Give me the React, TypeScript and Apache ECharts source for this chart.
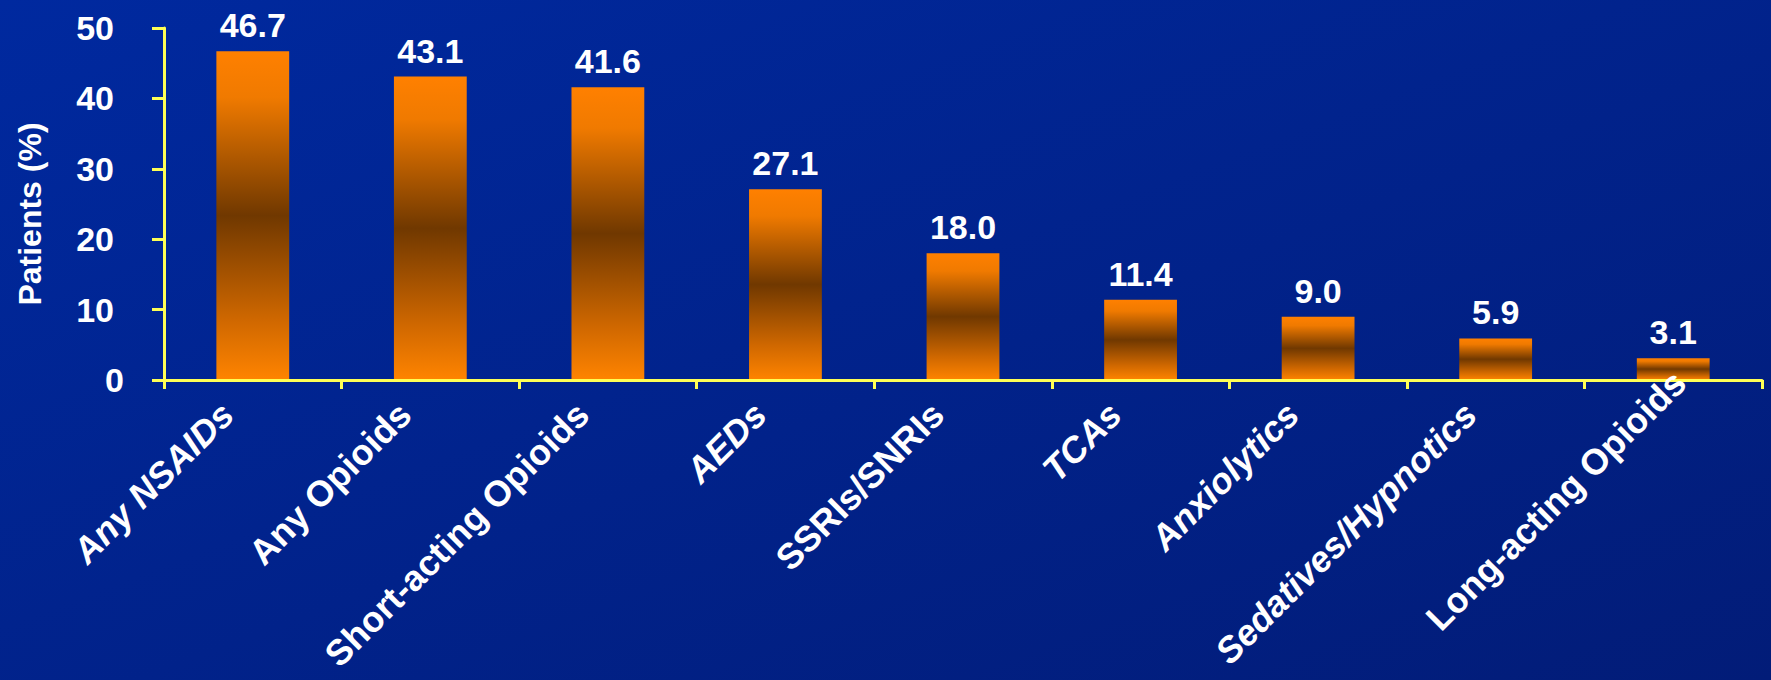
import React, { useEffect, useRef } from "react";
import * as echarts from "echarts";

const categories = [
  "Any NSAIDs",
  "Any Opioids",
  "Short-acting Opioids",
  "AEDs",
  "SSRIs/SNRIs",
  "TCAs",
  "Anxiolytics",
  "Sedatives/Hypnotics",
  "Long-acting Opioids",
];
const italicCategories = ["Any NSAIDs", "AEDs", "TCAs", "Anxiolytics", "Sedatives/Hypnotics"];
const values = [46.7, 43.1, 41.6, 27.1, 18.0, 11.4, 9.0, 5.9, 3.1];
const yTicks = [0, 10, 20, 30, 40, 50];
const yAxisTitle = "Patients (%)";

const FONT = "'Liberation Sans', Arial, Helvetica, sans-serif";
const YELLOW = "#FFFF55";

export default function App() {
  const ref = useRef<HTMLDivElement>(null);
  useEffect(() => {
    if (!ref.current) return;
    const chart = echarts.init(ref.current, undefined, { renderer: "svg" });
    const barGradient = new echarts.graphic.LinearGradient(0, 0, 0, 1, [
      { offset: 0, color: "#FF8000" },
      { offset: 0.14, color: "#F07A00" },
      { offset: 0.5, color: "#703800" },
      { offset: 0.82, color: "#D06800" },
      { offset: 1, color: "#FF8400" },
    ]);
    const last = categories.length - 1;
    const tickStyle = { color: "#FFFFFF", fontSize: 34, fontWeight: "bold", fontFamily: FONT };
    chart.setOption({
      animation: false,
      backgroundColor: new echarts.graphic.LinearGradient(0, 0, 1, 1, [
        { offset: 0, color: "#00299F" },
        { offset: 1, color: "#021C78" },
      ]),
      grid: {
        left: 164,
        top: 28,
        right: 9,
        bottom: 300,
        containLabel: false,
        outerBoundsMode: "none",
      },
      xAxis: {
        type: "category",
        z: 5,
        data: categories.map((c, i) => ({
          value: c,
          textStyle: {
            fontStyle: italicCategories.includes(c) ? "italic" : "normal",
            padding: i === last ? [0, -9, 0, 0] : [0, 36, 0, 0],
            lineHeight: i === last ? 33 : 68,
          },
        })),
        boundaryGap: true,
        axisLine: { show: true, lineStyle: { color: YELLOW, width: 3 } },
        axisTick: { show: true, length: 9, alignWithLabel: false, lineStyle: { color: YELLOW, width: 3 } },
        axisLabel: {
          interval: 0,
          rotate: 45,
          margin: 3,
          verticalAlign: "top",
          color: "#FFFFFF",
          fontSize: 36,
          fontWeight: "bold",
          fontFamily: FONT,
        },
        splitLine: { show: false },
      },
      yAxis: {
        type: "value",
        min: yTicks[0],
        max: yTicks[yTicks.length - 1],
        interval: 10,
        name: yAxisTitle,
        nameLocation: "middle",
        nameGap: 118,
        nameRotate: 90,
        nameTextStyle: {
          color: "#FFFFFF",
          fontSize: 32,
          fontWeight: "bold",
          fontFamily: FONT,
          padding: [0, 20, 0, 0],
        },
        axisLine: { show: true, lineStyle: { color: YELLOW, width: 3 } },
        axisTick: { show: true, length: 12, inside: false, lineStyle: { color: YELLOW, width: 3 } },
        axisLabel: {
          margin: 40,
          ...tickStyle,
          formatter: (v: number) => (v === 0 ? "{z|0}" : "{a|" + v + "}"),
          rich: {
            z: { ...tickStyle },
            a: { ...tickStyle, padding: [0, 10, 0, 0] },
          },
        },
        splitLine: { show: false },
      },
      series: [
        {
          type: "bar",
          data: values,
          barWidth: "41%",
          itemStyle: { color: barGradient },
          label: {
            show: true,
            position: "top",
            distance: 9,
            color: "#FFFFFF",
            fontSize: 34,
            fontWeight: "bold",
            fontFamily: FONT,
            formatter: (p: any) => Number(p.value).toFixed(1),
          },
        },
      ],
    });
    return () => chart.dispose();
  }, []);
  return (
    <div
      ref={ref}
      style={{ position: "absolute", left: 0, top: 0, width: 1771, height: 680 }}
    />
  );
}
